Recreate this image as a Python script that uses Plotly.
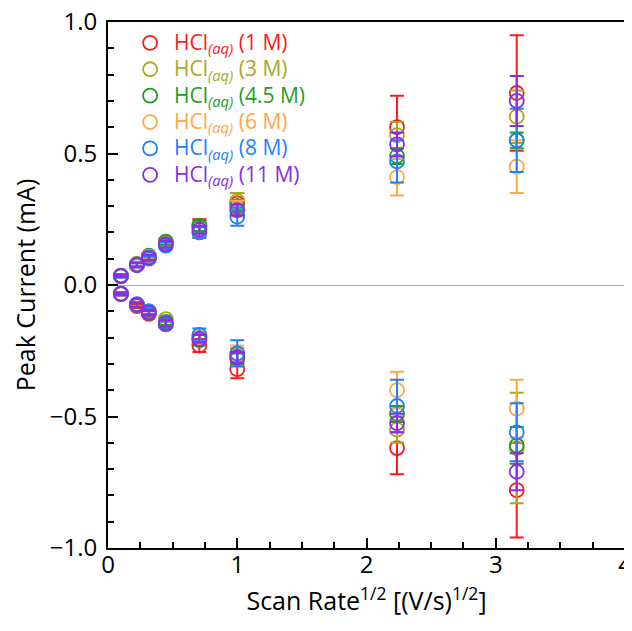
import plotly.graph_objects as go

# sqrt of scan rate (V/s)^1/2
x_vals = [0.1, 0.2236, 0.3162, 0.4472, 0.7071, 1.0, 2.2361, 3.1623]

labels = ["1 M", "3 M", "4.5 M", "6 M", "8 M", "11 M"]
colors = ["#ff1a1a", "#a8a824", "#1f9e1f", "#ffa845", "#1f80ff", "#8a2be8"]

# anodic (positive) peak currents, mA
anodic_1 = [0.035, 0.075, 0.105, 0.160, 0.225, 0.310, 0.600, 0.730]
anodic_3 = [0.035, 0.078, 0.110, 0.160, 0.220, 0.320, 0.570, 0.640]
anodic_45 = [0.036, 0.080, 0.112, 0.165, 0.225, 0.300, 0.490, 0.550]
anodic_6 = [0.034, 0.078, 0.108, 0.155, 0.200, 0.290, 0.410, 0.450]
anodic_8 = [0.033, 0.075, 0.100, 0.150, 0.200, 0.260, 0.470, 0.550]
anodic_11 = [0.035, 0.077, 0.105, 0.155, 0.210, 0.285, 0.535, 0.700]

anodic_err_1 = [0.005, 0.008, 0.010, 0.012, 0.025, 0.040, 0.120, 0.220]
anodic_err_3 = [0.005, 0.008, 0.010, 0.012, 0.020, 0.030, 0.050, 0.100]
anodic_err_45 = [0.005, 0.008, 0.010, 0.012, 0.020, 0.020, 0.030, 0.030]
anodic_err_6 = [0.005, 0.008, 0.010, 0.012, 0.020, 0.030, 0.070, 0.100]
anodic_err_8 = [0.005, 0.008, 0.010, 0.012, 0.020, 0.035, 0.080, 0.120]
anodic_err_11 = [0.005, 0.008, 0.010, 0.012, 0.015, 0.020, 0.045, 0.095]

# cathodic (negative) peak currents, mA
cathodic_1 = [-0.035, -0.080, -0.110, -0.150, -0.230, -0.320, -0.620, -0.780]
cathodic_3 = [-0.033, -0.075, -0.100, -0.130, -0.200, -0.270, -0.550, -0.620]
cathodic_45 = [-0.034, -0.077, -0.105, -0.140, -0.210, -0.280, -0.490, -0.610]
cathodic_6 = [-0.033, -0.075, -0.100, -0.145, -0.200, -0.260, -0.400, -0.470]
cathodic_8 = [-0.033, -0.073, -0.100, -0.150, -0.190, -0.260, -0.460, -0.560]
cathodic_11 = [-0.034, -0.076, -0.105, -0.145, -0.205, -0.275, -0.525, -0.710]

cathodic_err_1 = [0.005, 0.008, 0.010, 0.012, 0.025, 0.035, 0.100, 0.180]
cathodic_err_3 = [0.005, 0.008, 0.010, 0.012, 0.020, 0.030, 0.050, 0.210]
cathodic_err_45 = [0.005, 0.008, 0.010, 0.012, 0.020, 0.020, 0.030, 0.070]
cathodic_err_6 = [0.005, 0.008, 0.010, 0.012, 0.020, 0.030, 0.070, 0.110]
cathodic_err_8 = [0.005, 0.008, 0.010, 0.012, 0.025, 0.050, 0.100, 0.110]
cathodic_err_11 = [0.005, 0.008, 0.010, 0.012, 0.015, 0.020, 0.035, 0.070]

anodic = [anodic_1, anodic_3, anodic_45, anodic_6, anodic_8, anodic_11]
anodic_err = [anodic_err_1, anodic_err_3, anodic_err_45, anodic_err_6, anodic_err_8, anodic_err_11]
cathodic = [cathodic_1, cathodic_3, cathodic_45, cathodic_6, cathodic_8, cathodic_11]
cathodic_err = [cathodic_err_1, cathodic_err_3, cathodic_err_45, cathodic_err_6, cathodic_err_8, cathodic_err_11]

FONT = "Open Sans, DejaVu Sans, sans-serif"

fig = go.Figure()
for i, lab in enumerate(labels):
    c = colors[i]
    fig.add_trace(go.Scatter(
        x=x_vals + x_vals,
        y=anodic[i] + cathodic[i],
        mode="markers",
        name=(f'<span style="color:{c};font-size:21px">HCl<sub><i>(aq)</i></sub> ({lab})</span>'),
        legendgroup=lab,
        marker=dict(symbol="circle-open", size=14, color=c, line=dict(width=1.8, color=c)),
        error_y=dict(type="data", array=anodic_err[i] + cathodic_err[i], visible=True,
                     color=c, thickness=2, width=7),
    ))

# page body has an 8px margin, so the figure is sized/offset to compensate
fig.update_layout(
    width=624, height=623,
    margin=dict(l=100, r=7, t=14, b=83),
    paper_bgcolor="white", plot_bgcolor="white",
    font=dict(family=FONT, size=24, color="black"),
    showlegend=True,
    legend=dict(x=0.035, y=0.995, xanchor="left", yanchor="top",
                font=dict(family=FONT, size=18), bgcolor="rgba(0,0,0,0)",
                tracegroupgap=0, itemwidth=38),
    xaxis=dict(
        range=[0, 4], dtick=1, tick0=0, showgrid=False, zeroline=False, automargin=False,
        ticks="inside", ticklen=10, tickwidth=1.5, tickcolor="black",
        minor=dict(dtick=0.25, ticks="inside", ticklen=6, tickwidth=1.5, tickcolor="black", showgrid=False),
        showline=True, linecolor="black", linewidth=2, mirror=True,
        ticklabeloverflow="allow", ticklabelstandoff=-6,
        title=dict(text="Scan Rate<sup>1/2</sup> [(V/s)<sup>1/2</sup>]", font=dict(size=25), standoff=14),
        tickfont=dict(size=24),
    ),
    yaxis=dict(
        range=[-1, 1], dtick=0.5, tick0=0, tickformat=".1f", showgrid=False, automargin=False,
        zeroline=True, zerolinecolor="#aaaaaa", zerolinewidth=1.2,
        ticks="inside", ticklen=10, tickwidth=1.5, tickcolor="black",
        minor=dict(dtick=0.1, ticks="inside", ticklen=6, tickwidth=1.5, tickcolor="black", showgrid=False),
        showline=True, linecolor="black", linewidth=2, mirror=True,
        ticklabeloverflow="allow", ticklabelstandoff=4,
        title=dict(text="Peak Current (mA)", font=dict(size=25), standoff=10),
        tickfont=dict(size=24),
    ),
)

fig.write_html("out.html")
